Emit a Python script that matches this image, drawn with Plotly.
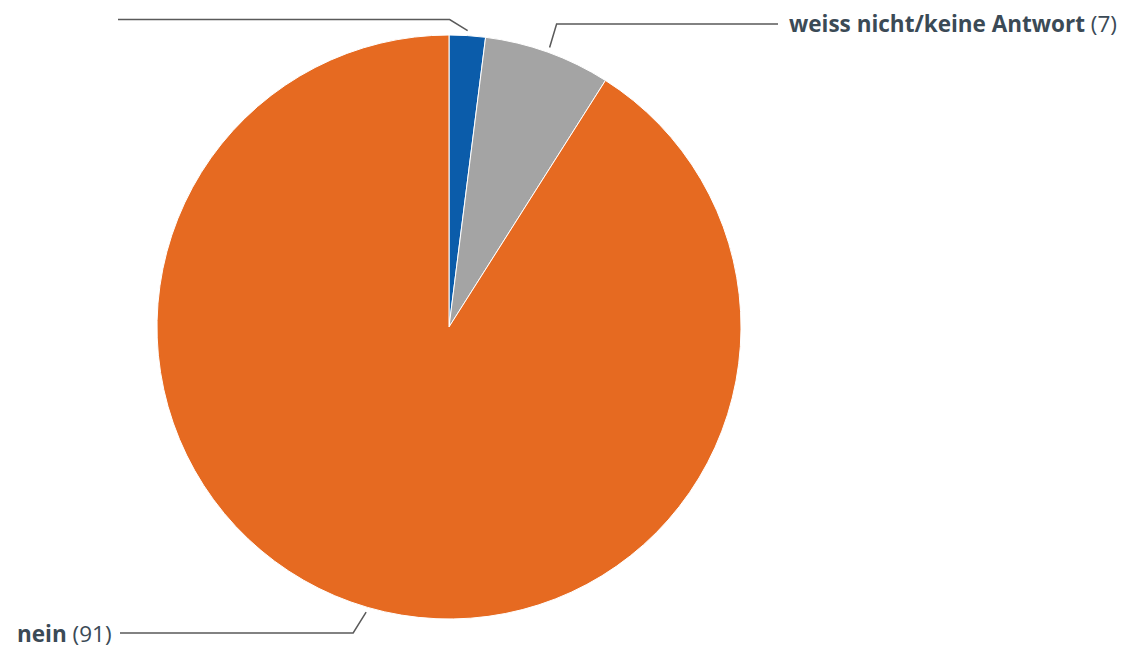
import math
import plotly.graph_objects as go

# ---- data ----
categories = ["ja", "weiss nicht/keine Antwort", "nein"]
values = [2, 7, 91]
colors = ["#0b5caa", "#a4a4a4", "#e66a21"]
label_texts = ["", "<b>weiss nicht/keine Antwort</b> (7)", "<b>nein</b> (91)"]

# ---- layout geometry (pixels) ----
W, H = 1126, 648
cx, cy, R = 449, 327, 292
# per-slice leader settings: (gap from rim, elbow dx, elbow y, horizontal end x, text anchor)
leaders = [
    dict(gap=5, ex=-18, ey=19.5, hx=118, side="left"),
    dict(gap=5, ex=7, ey=24, hx=778, side="right"),
    dict(gap=5, ex=-13, ey=633, hx=120, side="left"),
]

fig = go.Figure(go.Pie(
    labels=categories,
    values=values,
    sort=False,
    direction="clockwise",
    rotation=0,
    marker=dict(colors=colors, line=dict(color="white", width=1)),
    textinfo="none",
    hoverinfo="label+value",
    showlegend=False,
    domain=dict(x=[(cx - R) / W, (cx + R) / W], y=[(H - cy - R) / H, (H - cy + R) / H]),
))

def px(x):
    return x / W

def py(y):
    return 1 - y / H

total = sum(values)
cum = 0
shapes = []
annotations = []
for v, txt, ld in zip(values, label_texts, leaders):
    mid = (cum + v / 2) / total * 2 * math.pi
    cum += v
    sx = cx + (R + ld["gap"]) * math.sin(mid)
    sy = cy - (R + ld["gap"]) * math.cos(mid)
    ex = sx + ld["ex"]
    ey = ld["ey"]
    path = f"M {px(sx)} {py(sy)} L {px(ex)} {py(ey)} L {px(ld['hx'])} {py(ey)}"
    shapes.append(dict(type="path", path=path, xref="paper", yref="paper",
                       line=dict(color="#5a5a5a", width=1.5)))
    if txt:
        if ld["side"] == "right":
            annotations.append(dict(x=px(ld["hx"] + 9), y=py(ey), xref="paper", yref="paper",
                                    text=txt, showarrow=False, xanchor="left", yanchor="middle",
                                    font=dict(size=22.5, color="#3b4a56", family="Open Sans")))
        else:
            annotations.append(dict(x=px(ld["hx"] - 6), y=py(ey), xref="paper", yref="paper",
                                    text=txt, showarrow=False, xanchor="right", yanchor="middle",
                                    font=dict(size=22.5, color="#3b4a56", family="Open Sans")))

fig.update_layout(
    width=W, height=H,
    margin=dict(l=0, r=0, t=0, b=0),
    paper_bgcolor="white",
    plot_bgcolor="white",
    shapes=shapes,
    annotations=annotations,
)

fig.write_html("out.html",
               config={"displayModeBar": False},
               post_script="document.body.style.margin='0';document.body.style.overflow='hidden';")
